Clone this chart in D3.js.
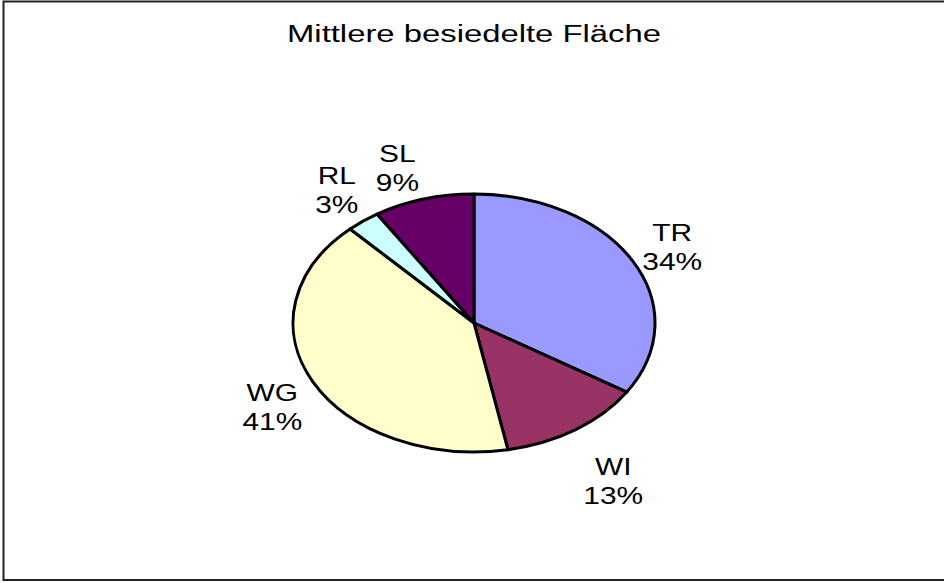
<!DOCTYPE html>
<html>
<head>
<meta charset="utf-8">
<script src="https://cdn.jsdelivr.net/npm/d3@7"></script>
<style>
  body { margin: 0; background: #fff; }
  text { font-family: 'Liberation Sans', Arial, sans-serif; fill: #000; }
</style>
</head>
<body>
<div id="chart"></div>
<script>
const categories = ['TR', 'WI', 'WG', 'RL', 'SL']
const values = [34, 13, 41, 3, 9]
const colors = ['#9999FF', '#993366', '#FFFFCC', '#CCFFFF', '#660066']
const title = 'Mittlere besiedelte Fläche'

const width = 944, height = 583
const cx = 474, cy = 323, rx = 181, ry = 129

const svg = d3.select('#chart').append('svg')
    .attr('width', width)
    .attr('height', height)

// outer frame
svg.append('rect')
    .attr('x', 3.5).attr('y', 1.5)
    .attr('width', 960).attr('height', 578.5)
    .attr('fill', 'none')
    .attr('stroke', '#222')
    .attr('stroke-width', 2)

svg.append('text')
    .attr('x', cx)
    .attr('y', 42)
    .attr('text-anchor', 'middle')
    .attr('font-size', 23)
    .attr('textLength', 374)
    .attr('lengthAdjust', 'spacingAndGlyphs')
    .text(title)

const data = categories.map((c, i) => ({ name: c, value: values[i], color: colors[i] }))
const pie = d3.pie().value(d => d.value).sort(null)
const arcs = pie(data)
const arc = d3.arc().innerRadius(0).outerRadius(rx)

// pie is a circle squashed to an ellipse
const g = svg.append('g')
    .attr('transform', 'translate(' + cx + ',' + cy + ') scale(1,' + ry / rx + ')')

g.selectAll('path')
    .data(arcs)
    .enter()
    .append('path')
    .attr('d', arc)
    .attr('fill', d => d.data.color)
    .attr('stroke', '#000')
    .attr('stroke-width', 3)
    .attr('stroke-linejoin', 'round')
    .attr('vector-effect', 'non-scaling-stroke')

// label spots: outside the centroid direction, nudged like excel does
const k = 1.3
const nudge = { TR: [-8, 5], WI: [7, 19], WG: [8, 8], RL: [7, 0], SL: [-11, 6] }
const lines = svg.selectAll('.lbl')
    .data(arcs)
    .enter()
    .append('g')
    .attr('class', 'lbl')
    .attr('transform', d => {
        const a = (d.startAngle + d.endAngle) / 2
        const n = nudge[d.data.name]
        const x = cx + Math.sin(a) * rx * k + n[0]
        const y = cy - Math.cos(a) * ry * k + n[1]
        return 'translate(' + x + ',' + y + ') scale(1.3,1)'
    })

lines.append('text')
    .attr('text-anchor', 'middle')
    .attr('font-size', 23)
    .attr('y', -6)
    .text(d => d.data.name)

lines.append('text')
    .attr('text-anchor', 'middle')
    .attr('font-size', 23)
    .attr('y', 23)
    .text(d => d.data.value + '%')
</script>
</body>
</html>
